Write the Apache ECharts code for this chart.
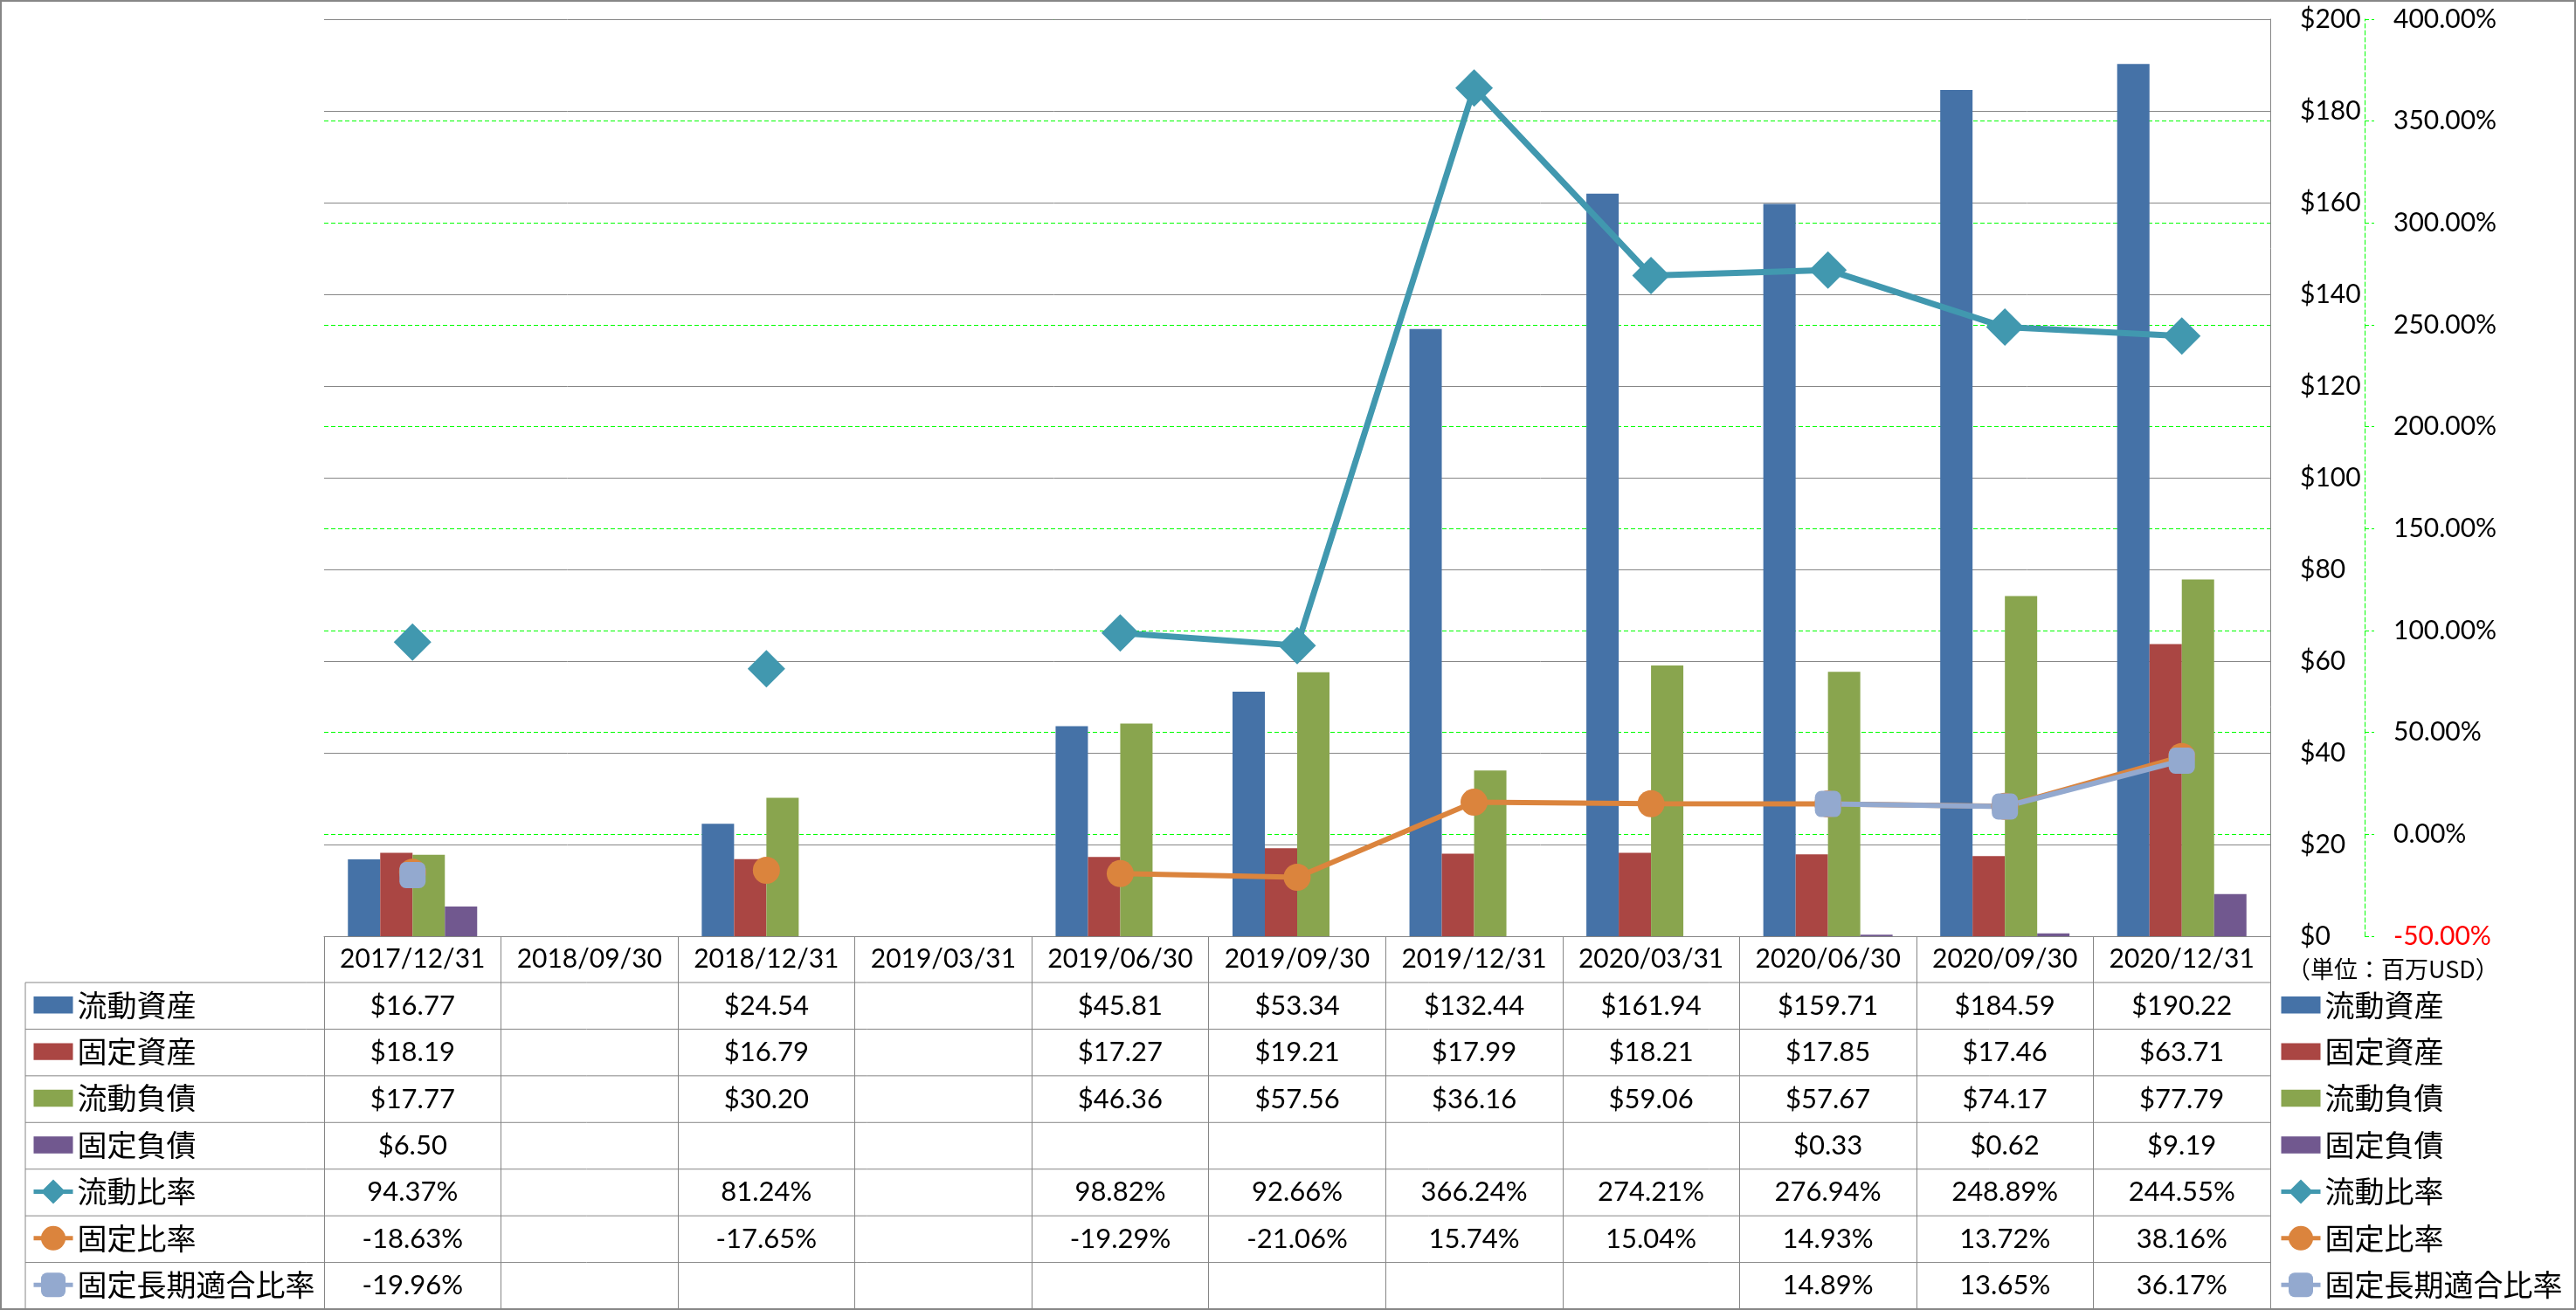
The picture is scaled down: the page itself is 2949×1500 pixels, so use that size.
<!DOCTYPE html>
<html>
<head>
<meta charset="utf-8">
<script src="https://cdn.jsdelivr.net/npm/echarts@6/dist/echarts.min.js"></script>
<style>
html,body{margin:0;padding:0;background:#fff;}
#c{width:2949px;height:1500px;}
</style>
</head>
<body>
<div id="c"></div>
<script>
// ---- data ----
const categories = ['2017/12/31','2018/09/30','2018/12/31','2019/03/31','2019/06/30','2019/09/30','2019/12/31','2020/03/31','2020/06/30','2020/09/30','2020/12/31'];
const currentAssets      = [16.77, null, 24.54, null, 45.81, 53.34, 132.44, 161.94, 159.71, 184.59, 190.22];
const fixedAssets        = [18.19, null, 16.79, null, 17.27, 19.21, 17.99, 18.21, 17.85, 17.46, 63.71];
const currentLiabilities = [17.77, null, 30.20, null, 46.36, 57.56, 36.16, 59.06, 57.67, 74.17, 77.79];
const fixedLiabilities   = [6.50, null, null, null, null, null, null, null, 0.33, 0.62, 9.19];
const currentRatio       = [94.37, null, 81.24, null, 98.82, 92.66, 366.24, 274.21, 276.94, 248.89, 244.55];
const fixedRatio         = [-18.63, null, -17.65, null, -19.29, -21.06, 15.74, 15.04, 14.93, 13.72, 38.16];
const fixedLongTermRatio = [-19.96, null, null, null, null, null, null, null, 14.89, 13.65, 36.17];
const seriesNames = ['流動資産','固定資産','流動負債','固定負債','流動比率','固定比率','固定長期適合比率'];
const unitLabel = '（単位：百万USD）';
const moneyAxis = {min: 0, max: 200, interval: 20};
const pctAxis = {min: -50, max: 400, interval: 50};

// ---- style ----
const C = {blue:'#4572A7', red:'#AA4643', green:'#89A54E', purple:'#71588F', teal:'#4198AF', orange:'#DB843D', lblue:'#93A9CF', grid:'#868686', dash:'#00FF00'};
const NUM_FONT = 'Lato, "Liberation Sans", sans-serif';
const JP_FONT = '"Noto Sans CJK JP", sans-serif';

const G = {left: 371, top: 22, width: 2228, height: 1050};
const TABLE_LEFT = 29, HEADER_H = 53, TABLE_BOTTOM = 1499;
const gridBottomY = G.top + G.height;
const firstRowY = gridBottomY + HEADER_H;
const ROW_H = (TABLE_BOTTOM - firstRowY) / 7;

const money = v => v == null ? '' : '$' + v.toFixed(2);
const pct = v => v == null ? '' : v.toFixed(2) + '%';
const tableRows = [
  {vals: currentAssets, fmt: money},
  {vals: fixedAssets, fmt: money},
  {vals: currentLiabilities, fmt: money},
  {vals: fixedLiabilities, fmt: money},
  {vals: currentRatio, fmt: pct},
  {vals: fixedRatio, fmt: pct},
  {vals: fixedLongTermRatio, fmt: pct}
];

const barIcon = 'path://M0,0H44V19H0Z';
const legendData = seriesNames.map((n, i) => i < 4 ? {name: n, icon: barIcon} : {name: n});
function legend(left) {
  return {
    orient: 'vertical', left: left, top: firstRowY + ROW_H / 2 - 17.5 - 6,
    itemWidth: 45, itemHeight: 35, itemGap: ROW_H - 35,
    symbolKeepAspect: true,
    lineStyle: {width: 5},
    textStyle: {fontSize: 34, fontFamily: JP_FONT, color: '#000', lineHeight: 35},
    data: legendData, selectedMode: false
  };
}

function bar(name, data, color) {
  return {type: 'bar', name, data, yAxisIndex: 0, barWidth: 37, barGap: '0%', itemStyle: {color}, z: 2};
}
function line(name, data, color, symbol, size, width) {
  return {type: 'line', name, data, yAxisIndex: 1, symbol, symbolSize: size, showAllSymbol: true,
    connectNulls: false, lineStyle: {width, color}, itemStyle: {color}, z: 3};
}

const chart = echarts.init(document.getElementById('c'), null, {renderer: 'canvas'});
chart.setOption({
  animation: false,
  backgroundColor: '#fff',
  grid: {left: G.left, top: G.top, width: G.width, height: G.height, containLabel: false, outerBoundsMode: 'none'},
  legend: [legend(31), legend(2604)],
  xAxis: {
    type: 'category', data: categories, boundaryGap: true, z: 1,
    axisLine: {lineStyle: {color: C.grid, width: 1}},
    axisTick: {show: true, length: TABLE_BOTTOM - gridBottomY, interval: 0, lineStyle: {color: C.grid, width: 1}},
    axisLabel: {interval: 0, margin: HEADER_H / 2, verticalAlign: 'middle', fontSize: 30, fontFamily: NUM_FONT, color: '#000'},
    splitLine: {show: false}
  },
  yAxis: [
    {
      type: 'value', position: 'right', min: moneyAxis.min, max: moneyAxis.max, interval: moneyAxis.interval, z: 1,
      axisLine: {show: true, lineStyle: {color: C.grid, width: 1}},
      axisTick: {show: false},
      axisLabel: {margin: 34, fontSize: 30, fontFamily: NUM_FONT, color: '#000', formatter: v => '$' + v},
      splitLine: {show: true, lineStyle: {color: C.grid, width: 1}}
    },
    {
      type: 'value', position: 'right', offset: 108, min: pctAxis.min, max: pctAxis.max, interval: pctAxis.interval, z: 0,
      axisLine: {show: true, lineStyle: {color: C.dash, width: 1, type: [5, 3]}},
      axisTick: {show: true, length: 11, lineStyle: {color: C.dash, width: 1, type: [5, 3]}},
      axisLabel: {margin: 33, fontSize: 30, fontFamily: NUM_FONT, color: '#000',
        formatter: v => v < 0 ? '{neg|' + v.toFixed(2) + '%}' : v.toFixed(2) + '%',
        rich: {neg: {color: '#FF0000', fontSize: 30, fontFamily: NUM_FONT}}},
      splitLine: {show: true, lineStyle: {color: C.dash, width: 1, type: [5, 3]}}
    }
  ],
  series: [
    bar(seriesNames[0], currentAssets, C.blue),
    bar(seriesNames[1], fixedAssets, C.red),
    bar(seriesNames[2], currentLiabilities, C.green),
    bar(seriesNames[3], fixedLiabilities, C.purple),
    line(seriesNames[4], currentRatio, C.teal, 'diamond', 43, 7),
    line(seriesNames[5], fixedRatio, C.orange, 'circle', 31, 6),
    line(seriesNames[6], fixedLongTermRatio, C.lblue, 'roundRect', 30, 6)
  ]
});

// ---- data table (cells derived from data arrays, columns from the category axis) ----
const graphics = [];
const rightX = G.left + G.width;
for (let k = 0; k <= 7; k++) {
  const y = firstRowY + k * ROW_H;
  graphics.push({type: 'line', silent: true, shape: {x1: TABLE_LEFT, y1: y, x2: rightX, y2: y}, style: {stroke: C.grid, lineWidth: 1}});
}
graphics.push({type: 'line', silent: true, shape: {x1: TABLE_LEFT, y1: firstRowY, x2: TABLE_LEFT, y2: TABLE_BOTTOM}, style: {stroke: C.grid, lineWidth: 1}});
tableRows.forEach((row, r) => {
  const cy = firstRowY + (r + 0.5) * ROW_H;
  row.vals.forEach((v, i) => {
    if (v == null) return;
    const cx = chart.convertToPixel({xAxisIndex: 0}, i);
    graphics.push({type: 'text', silent: true, x: cx, y: cy,
      style: {text: row.fmt(v), align: 'center', verticalAlign: 'middle', fontSize: 31, fontFamily: NUM_FONT, fill: '#000'}});
  });
});
graphics.push({type: 'text', silent: true, x: 2618, y: 1110,
  style: {text: unitLabel, align: 'left', verticalAlign: 'middle', fontSize: 27, fontFamily: JP_FONT, fill: '#000'}});
graphics.push({type: 'rect', silent: true, shape: {x: 1, y: 1, width: 2947, height: 1498},
  style: {fill: 'none', stroke: C.grid, lineWidth: 2}, z: 100});
chart.setOption({graphic: graphics});
</script>
</body>
</html>
